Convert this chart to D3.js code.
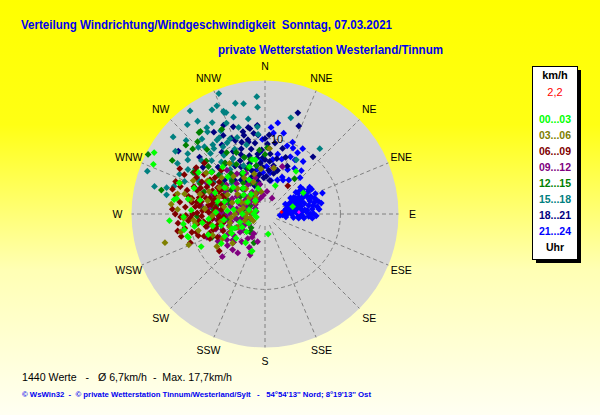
<!DOCTYPE html>
<html>
<head>
<meta charset="utf-8">
<script src="https://cdn.jsdelivr.net/npm/d3@7"></script>
<style>
  body { margin: 0; }
  svg { display: block; font-family: "Liberation Sans", Arial, sans-serif; }
  text { white-space: pre; }
</style>
</head>
<body>
<svg id="chart"></svg>
<script>
const directions = ['N', 'NNE', 'NE', 'ENE', 'E', 'ESE', 'SE', 'SSE', 'S', 'SSW', 'SW', 'WSW', 'W', 'WNW', 'NW', 'NNW']
const hourLabels = ['00...03', '03...06', '06...09', '09...12', '12...15', '15...18', '18...21', '21...24']
const hourColors = ['#00ff00', '#808000', '#800000', '#800080', '#008000', '#008080', '#000080', '#0000ff']
const ringValues = [10]
const maxSpeed = 17.7
const currentValue = '2,2'
const currentPoint = [83, 2.2]
const meanPoint = [87, 4.5]

// [direction in degrees, speed in km/h]
const hours00 = [[294,16.2],[266,12.7],[279,12.2],[254,10.7],[243,9.5],[199,5.2],[171,2.7],[36,7.0],[61,5.8],[263,10.9],[259,10.9],[253,10.6],
  [241,6.1],[240,5.1],[245,4.4],[200,5.3],[268,10.8],[299,16.8],[290,12.1],[280,11.9],[281,10.4],[347,7.4],[342,6.6],[255,6],[265,7.5],
  [275,5],[285,6.5],[295,4],[250,8],[240,3.5],[230,5],[300,8.5],[310,5.5],[320,4.5],[290,10],[260,9.5],[270,3],[282,8.8],[335,5],[315,7],
  [246,4.8],[345,3.5],[20,4],[75,3.8],[270,1.5],[250,1.2],[350,7.3],[308,9.0],
  [257,7.1],[262,5.5],[272,6.5],[278,4.2],[287,5.6],[293,7.2],[303,6.4],[312,3.8],[325,3.2],[332,6.2],[252,3.5],[236,7.0],[226,3.4],
  [214,4.6],[262,8.4],[273,9.8],[302,10.4],[318,8.4],[285,2.2],[305,2.8],[325,2.2],[290,1.3],[240,2.5]]
const hours03 = [[254,13.8],[248,10.9],[256,9.1],[283,11.9],[236,7.7],[258,11.4],[262,9.3],[244,4.0],[251,2.8],[256,4.8],[273,11.6],[270,4],
  [280,5.5],[290,6.5],[300,7],[260,6],[250,5],[275,8],[287,9],[296,3.5],[265,9.5],[310,7.5],[320,6.5],[330,5.5],[340,4.5],[350,3],[355,6],
  [305,9.5],[295,10.5],[284,11],[276,12.5],[306,4.5],[316,3],[4,8.7],[11,6.2],[280,2.0],[260,2.5],[240,6.5],[228,5.8],[268,7.0],[292,8.0],[325,8.2],
  [258,7.2],[264,4.5],[272,6.6],[278,3.4],[283,7.8],[289,4.6],[297,5.6],[304,6.2],[313,5.0],[323,4.2],[335,3.0],[345,5.5],[248,7.5],
  [242,5.2],[267,10.8],[281,10.0],[300,8.8],[290,12.0],[270,2.5],[300,3.0],[320,2.0],[285,3.0],[255,2.0],[240,1.8],[330,2.5]]
const hours06 = [[262,9.0],[265,10.2],[268,8.4],[270,9.6],[272,7.5],[275,10.6],[277,8.8],[280,7.2],[282,9.9],[285,8.1],[287,10.8],[290,7.0],
  [292,9.2],[295,8.5],[298,10.3],[300,6.6],[303,9.6],[270,6.4],[276,5.8],[283,6.0],[265,7.0],[258,8.0],[255,9.4],[260,10.8],[268,11.2],
  [278,11.4],[288,11.8],[296,11.9],[304,11.0],[300,8.0],[274,7.9],[281,8.6],[289,9.5],[263,8.2],[271,9.0],[279,9.8],[286,7.6],[293,6.2],
  [253,7.2],[250,8.6],[257,6.4],[266,5.5],[305,7.4],[308,9.0],[310,10.5],[315,8.2],[285,12.7],[248,6.0],[259,11.8],[273,12.3],[231,7.8],[39,4.8],
  [261,7.5],[264,8.8],[267,9.9],[269,10.5],[273,8.3],[276,9.3],[279,7.6],[283,10.4],[284,7.0],[287,8.7],[291,10.1],[294,7.6],[297,9.4],
  [299,7.2],[302,8.6],[256,10.0],[252,9.3],[251,7.8],[254,6.8],[258,5.7],[262,6.2],[266,6.0],[272,6.8],[277,6.6],[280,9.2],[284,9.0],
  [288,6.8],[292,5.8],[296,6.8],[301,10.8],[306,8.2],[264,11.6],[270,11.9],[282,12.1],[290,12.6],[298,12.8],[246,8.0],[244,7.0],[249,10.6],[255,11.5]]
const hours09 = [[230,6.5],[235,5.0],[240,7.2],[245,4.2],[250,6.0],[255,3.5],[260,5.4],[265,7.0],[270,4.6],[275,6.3],[280,3.8],[285,5.5],
  [290,7.4],[295,4.8],[300,6.0],[305,3.2],[310,5.0],[320,4.2],[330,3.4],[220,4.8],[215,6.3],[210,3.0],[225,8.0],[238,2.5],[248,8.3],[258,7.8],
  [268,2.8],[278,8.6],[288,2.6],[298,8.8],[205,4.9],[200,5.8],[195,3.8],[252,5.0],[262,4.0],[272,5.8],[243,6.8],[233,3.6],[231,5.5],[209,3.5],
  [20,6.7],[24,2.3],[234,4.1],[259,6.1],[269,7.1],[319,7.7],[10,6.2],[335,6],[345,5],[350,4],[250,2.0],
  [228,5.6],[236,6.1],[242,5.5],[247,3.4],[253,6.8],[257,4.6],[263,6.4],[267,5.2],[273,3.6],[277,7.4],[282,4.6],[287,6.8],[292,3.7],
  [297,5.6],[302,4.4],[307,6.4],[312,3.6],[317,5.5],[323,3.2],[215,4.0],[222,6.4],[242,3.0],[256,2.5],[283,2.3],[300,2.8],[318,2.8],[340,3.0],[325,6.5],
  [330,2.0],[315,1.8],[345,2.2],[300,1.5],[285,1.2],[270,1.8],[260,3.2],[290,3.2],[310,2.5],[330,4.5],[355,2.5],[5,3.0]]
const hours12 = [[297,17.4],[283,14.1],[322,13.9],[300,14.2],[311,13.9],[321,13.9],[333,12.6],[328,9.6],[317,13.1],[312,12.9],[318,11.5],
  [300,6],[290,7.5],[310,8],[320,7],[330,6],[280,6.5],[305,5.5],[295,9.5],[325,5],[340,6.5],[285,4.8],[275,8.2],[246,7.7],[225,2.6],[201,4.1],
  [218,3.0],[40,6.1],[2,8.8],[0,7.9],[300,2.2],[335,9.0],[345,7.5],[312,10.5],[262,5.0],[268,9.0],[220,3.1],
  [305,7.0],[295,6.0],[315,6.2],[322,8.6],[330,7.6],[285,7.0],[270,5.5],[276,7.0],[290,8.6],[340,8.0],[350,6.5],[355,8.5],[310,9.8],
  [300,11.0],[280,10.0],[290,5.2],[305,4.0],[318,4.5],[335,4.5],[280,3.0],[315,3.0],[330,3.0],[345,4.0],[260,3.8],[295,2.5]]
const hours15 = [[339,17.1],[356,15.6],[349,14.9],[339,14.4],[336,15.7],[338,14.5],[324,15.2],[324,16.9],[319,15.7],[310,15.9],[325,13.3],
  [327,11.7],[332,10.7],[337,13.1],[338,14.7],[323,11.5],[305,12.5],[284,15.1],[290,16.6],[285,13.5],[281,13.3],[300,13.4],[40,11.3],[15,13.2],
  [356,14.2],[355,11.6],[355,10.6],[30,8.3],[320,9.0],[315,10.0],[325,9.5],[330,8.5],[310,11.0],[318,12.0],[335,11.0],[305,9.5],[312,8.0],
  [328,10.5],[340,8.0],[300,10.5],[322,7.5],[332,12.5],[308,13.0],[316,6.8],[326,13.8],[345,9.5],[298,8.5],[290,9.8],[336,7.0],[290,3.0],
  [300,11.8],[295,12.5],[305,14.5],[313,14.3],[320,13.0],[330,14.0],[342,13.5],[345,15.2],[350,12.8],[333,15.5],[318,10.8],[327,8.0],
  [335,9.5],[340,10.8],[343,12.0],[309,9.0],[303,11.0],[297,10.0],[292,11.5],[287,12.6],[313,6.0],[322,11.0],[315,12.5],[329,11.8],[302,8.0]]
const hours18 = [[350,11.5],[345,10.8],[355,10.5],[0,10.0],[352,9.5],[340,9.2],[348,8.8],[357,8.5],[5,8.0],[345,8.0],[335,7.8],[352,7.5],
  [0,7.2],[343,7.0],[350,6.5],[357,6.2],[338,6.5],[330,6.2],[345,5.8],[352,5.3],[340,5.2],[5,5.8],[358,4.8],[335,5.0],[325,5.5],[348,4.4],
  [10,6.5],[15,9.0],[330,8.5],[320,7.0],[355,11.8],[2,9.3],[342,10.0],[336,11.0],[8,4.5],[12,7.5],[340,12.3],[18,14.1],[40,9.9],[21,12.5],
  [306,14.2],[311,11.5],[349,11.7],[307,10.3],[347,10.1],[333,9.3],[328,10.8],
  [347,9.8],[353,8.0],[358,7.5],[2,5.0],[338,8.5],[333,7.0],[343,6.0],[348,5.0],[328,7.5],[318,6.0],[355,6.8],[5,7.0],[8,9.5],[12,5.5],
  [345,11.3],[352,10.8],[338,10.5],[332,11.8],[325,10.0],[322,8.5],[350,4.0],[340,4.0],[330,5.0],[315,8.8],[310,7.0],[3,10.5],[16,6.0],
  [20,8.0],[25,7.0],[328,12.8],[335,13.0]]
const hours21 = [[95,2.0],[92,2.8],[90,3.5],[88,4.2],[86,5.0],[85,5.6],[84,6.3],[92,6.8],[80,3.0],[78,3.8],[76,4.6],[75,5.4],[74,6.2],[72,6.9],
  [70,3.4],[68,4.0],[66,4.8],[65,5.6],[63,6.4],[62,7.0],[60,4.4],[58,5.2],[57,6.0],[82,4.8],[79,5.9],[88,3.0],[83,3.6],[71,5.0],[67,6.0],
  [85,7.2],[94,4.5],[96,5.2],[97,3.8],[90,6.0],[77,7.3],[64,3.0],[55,5.0],[73,4.2],[70,8.1],[94,5.1],
  [8,12.2],[6,10.8],[21,10.2],[29,8.2],[24,8.3],[27,6.6],[44,6.7],[25,5.4],[8,7.3],[15,6.0],[7,5.5],[28,5.1],[358,9.9],[3,8.8],[23,9.5],
  [28,9.2],[17,7.6],[12,8.1],[36,8.6],[357,7.2],[357,5.5],[2,6.3],
  [93,2.3],[89,2.6],[86,3.2],[84,3.9],[81,4.3],[78,4.9],[75,3.2],[73,3.7],[71,4.5],[69,5.1],[67,5.4],[64,5.0],[62,5.8],[61,6.6],[59,6.9],
  [56,5.6],[58,4.0],[63,4.6],[66,3.6],[69,6.5],[72,6.2],[74,7.0],[77,6.7],[80,6.5],[82,7.0],[84,5.3],[87,5.5],[89,6.4],[91,4.8],[93,5.8],
  [95,6.3],[97,4.5],[98,2.8],[86,2.4],[81,2.6],[76,2.9],[65,4.2],[68,7.2],[79,7.6],[53,5.9],
  [10,4.5],[20,4.8],[35,5.5],[40,7.5],[33,7.2],[18,9.5],[13,11.0],[4,11.5],[30,10.0],[355,8.2],[350,6.0]]
const hourSeries = [hours00, hours03, hours06, hours09, hours12, hours15, hours18, hours21]

const width = 600, height = 415
const cx = 265, cy = 214, R = 133.5

const svg = d3.select('#chart').attr('width', width).attr('height', height)

const grad = svg.append('defs').append('linearGradient')
  .attr('id', 'bg').attr('x1', 0).attr('y1', 0).attr('x2', 0).attr('y2', 1)
grad.selectAll('stop')
  .data([[0, '#ffff00'], [0.3, '#ffff14'], [0.65, '#ffffb4'], [1, '#fffff2']])
  .join('stop').attr('offset', d => d[0]).attr('stop-color', d => d[1])
svg.append('rect').attr('width', width).attr('height', height).attr('fill', 'url(#bg)')

// titles
svg.append('text').attr('x', 21).attr('y', 29)
  .attr('font-size', 12.5).attr('font-weight', 'bold').attr('fill', '#0000f0')
  .attr('textLength', 371).attr('lengthAdjust', 'spacingAndGlyphs')
  .text('Verteilung Windrichtung/Windgeschwindigkeit  Sonntag, 07.03.2021')
svg.append('text').attr('x', 218).attr('y', 54)
  .attr('font-size', 12.5).attr('font-weight', 'bold').attr('fill', '#0000f0')
  .attr('textLength', 225).attr('lengthAdjust', 'spacingAndGlyphs')
  .text('private Wetterstation Westerland/Tinnum')

// polar area
const r = d3.scaleLinear().domain([0, maxSpeed]).range([0, R])
const angle = d3.scaleLinear().domain([0, 360]).range([0, 2 * Math.PI])

const g = svg.append('g').attr('transform', `translate(${cx},${cy})`)
g.append('circle').attr('r', R).attr('fill', '#d5d5d5')

g.append('g').attr('class', 'spokes')
  .selectAll('line')
  .data(directions)
  .join('line')
    .attr('x1', (d, i) => d3.pointRadial(angle(i * 22.5), 12)[0])
    .attr('y1', (d, i) => d3.pointRadial(angle(i * 22.5), 12)[1])
    .attr('x2', (d, i) => d3.pointRadial(angle(i * 22.5), R)[0])
    .attr('y2', (d, i) => d3.pointRadial(angle(i * 22.5), R)[1])
    .attr('stroke', '#808080').attr('stroke-dasharray', '4,3')

g.append('g').attr('class', 'rings')
  .selectAll('circle')
  .data(ringValues)
  .join('circle')
    .attr('r', d => r(d)).attr('fill', 'none')
    .attr('stroke', '#808080').attr('stroke-dasharray', '4,3')

g.append('g').attr('class', 'dir labels')
  .selectAll('text')
  .data(directions)
  .join('text')
    .attr('x', (d, i) => d3.pointRadial(angle(i * 22.5), R + 14)[0])
    .attr('y', (d, i) => d3.pointRadial(angle(i * 22.5), R + 14)[1])
    .attr('text-anchor', 'middle').attr('dy', '0.36em')
    .attr('font-size', 10.5).attr('fill', '#000')
    .text(d => d)

const diamond = 'M0,-3.4L3.4,0L0,3.4L-3.4,0Z'
const pos = d => d3.pointRadial(angle(d[0]), r(d[1]))

g.append('g').attr('class', 'points')
  .selectAll('g')
  .data(hourSeries.map((s, i) => ({ s, i })).reverse())
  .join('g')
    .attr('fill', d => hourColors[d.i])
  .selectAll('path')
  .data(d => d.s)
  .join('path')
    .attr('d', diamond)
    .attr('transform', d => `translate(${pos(d)})`)

g.append('path').attr('d', 'M0,-2L2,0L0,2L-2,0Z').attr('fill', '#ff00ff')
  .attr('transform', `translate(${pos(meanPoint)})`)
g.append('path').attr('d', 'M0,-2L2,0L0,2L-2,0Z').attr('fill', '#ff0000')
  .attr('transform', `translate(${pos(currentPoint)})`)

g.append('g').attr('class', 'ring labels')
  .selectAll('text')
  .data(ringValues)
  .join('text')
    .attr('x', 6).attr('y', d => -r(d)).attr('dy', '0.36em')
    .attr('font-size', 11).attr('fill', '#000')
    .text(d => d)

// legend
const lx = 532, ly = 66, lw = 45, lh = 193
svg.append('rect').attr('x', lx + 4).attr('y', ly + 4).attr('width', lw).attr('height', lh).attr('fill', '#000')
svg.append('rect').attr('x', lx + 0.5).attr('y', ly + 0.5).attr('width', lw).attr('height', lh)
  .attr('fill', '#fff').attr('stroke', '#000')
const legend = svg.append('g').attr('transform', `translate(${lx + lw / 2 + 0.5}, 0)`)
  .attr('text-anchor', 'middle')
legend.append('text').attr('y', 79).attr('font-size', 11).attr('font-weight', 'bold').text('km/h')
legend.append('text').attr('y', 96).attr('font-size', 11).attr('fill', '#ff0000').text(currentValue)
legend.selectAll('.hours')
  .data(hourLabels)
  .join('text')
    .attr('class', 'hours')
    .attr('y', (d, i) => 123 + i * 16)
    .attr('font-size', 10.5).attr('font-weight', 'bold')
    .attr('fill', (d, i) => hourColors[i])
    .text(d => d)
legend.append('text').attr('y', 251).attr('font-size', 10.5).attr('font-weight', 'bold').text('Uhr')

// footer
svg.append('text').attr('x', 22).attr('y', 381).attr('font-size', 11)
  .attr('textLength', 210).attr('lengthAdjust', 'spacingAndGlyphs')
  .text('1440 Werte   -   Ø 6,7km/h  -  Max. 17,7km/h')
svg.append('text').attr('x', 22).attr('y', 397).attr('font-size', 8).attr('font-weight', 'bold').attr('fill', '#0000f0')
  .attr('textLength', 349).attr('lengthAdjust', 'spacingAndGlyphs')
  .text('© WsWin32  -  © private Wetterstation Tinnum/Westerland/Sylt   -   54°54\'13\'\' Nord; 8°19\'13\'\' Ost')
</script>
</body>
</html>
